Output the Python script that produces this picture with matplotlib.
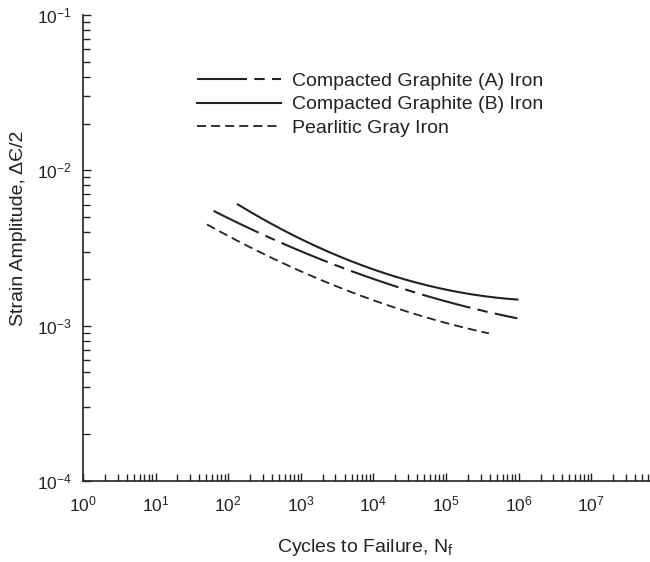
import numpy as np
import matplotlib
matplotlib.use('Agg')
import matplotlib.pyplot as plt
from matplotlib.ticker import LogLocator, LogFormatterMathtext

plt.rcParams['font.family'] = ['Liberation Sans', 'DejaVu Sans']
plt.rcParams['mathtext.default'] = 'regular'

# curves (cycles, strain amplitude)
cg_a_n = [63, 307, 2830, 13900, 115000, 960000]
cg_a_eps = [5.46e-3, 3.91e-3, 2.38e-3, 1.95e-3, 1.41e-3, 1.11e-3]

cg_b_n = [136, 580, 2830, 13900, 115000, 960000]
cg_b_eps = [6.1e-3, 4.1e-3, 2.83e-3, 2.15e-3, 1.77e-3, 1.44e-3]

gray_n = [51, 342, 3890, 23500, 115000, 389000]
gray_eps = [4.38e-3, 2.97e-3, 1.68e-3, 1.25e-3, 1.03e-3, 8.97e-4]

labels = ['Compacted Graphite (A) Iron', 'Compacted Graphite (B) Iron', 'Pearlitic Gray Iron']

ink = '#222222'

fig = plt.figure(figsize=(6.5, 5.62), dpi=100)
ax = fig.add_axes([83 / 650, 1 - 481 / 562, 570 / 650, 466 / 562])


def smooth(n, eps):
    # quadratic fit in log-log space so the curve runs smoothly through the read points
    lx, ly = np.log10(n), np.log10(eps)
    c = np.polyfit(lx, ly, 2)
    xs = np.linspace(lx[0], lx[-1], 200)
    return 10 ** xs, 10 ** np.polyval(c, xs)


x, y = smooth(cg_a_n, cg_a_eps)
ax.plot(x, y, color=ink, lw=1.5, dashes=(24, 3.5, 5, 3.5), label=labels[0])
x, y = smooth(cg_b_n, cg_b_eps)
ax.plot(x, y, color=ink, lw=1.5, label=labels[1])
x, y = smooth(gray_n, gray_eps)
ax.plot(x, y, color=ink, lw=1.3, dashes=(5, 2.8), label=labels[2])

ax.set_xscale('log')
ax.set_yscale('log')
ax.set_xlim(1, 10 ** 7.85)
ax.set_ylim(1e-4, 1e-1)

ax.spines['top'].set_visible(False)
ax.spines['right'].set_visible(False)
for s in ['left', 'bottom']:
    ax.spines[s].set_color(ink)
    ax.spines[s].set_linewidth(1.2)

ax.xaxis.set_major_locator(LogLocator(base=10, numticks=20))
ax.yaxis.set_major_locator(LogLocator(base=10, numticks=20))
ax.xaxis.set_minor_locator(LogLocator(base=10, subs=np.arange(2, 10), numticks=20))
ax.yaxis.set_minor_locator(LogLocator(base=10, subs=np.arange(2, 10), numticks=20))
ax.xaxis.set_major_formatter(LogFormatterMathtext())
ax.yaxis.set_major_formatter(LogFormatterMathtext())
ax.tick_params(which='both', direction='in', color=ink, width=1.0)
ax.tick_params(which='major', length=6, labelsize=12.5, labelcolor=ink)
ax.tick_params(which='minor', length=5)
ax.tick_params(axis='x', which='major', pad=10)
ax.tick_params(axis='y', which='major', pad=8)

ax.set_xlabel('Cycles to Failure, N$_f$', fontsize=14, color=ink)
ax.set_ylabel('Strain Amplitude, \u0394\u0404/2', fontsize=14, color=ink)
ax.xaxis.set_label_coords((365 - 83) / 570, -(537 - 481) / 466)
ax.yaxis.set_label_coords((27 - 83) / 570, (481 - 228) / 466)

ax.legend(loc='upper left', bbox_to_anchor=(0.2, 0.877), frameon=False, fontsize=14,
          handlelength=4.3, handletextpad=0.6, labelspacing=0.3, borderaxespad=0,
          borderpad=0, labelcolor=ink)

fig.savefig('out.png', dpi=100)
